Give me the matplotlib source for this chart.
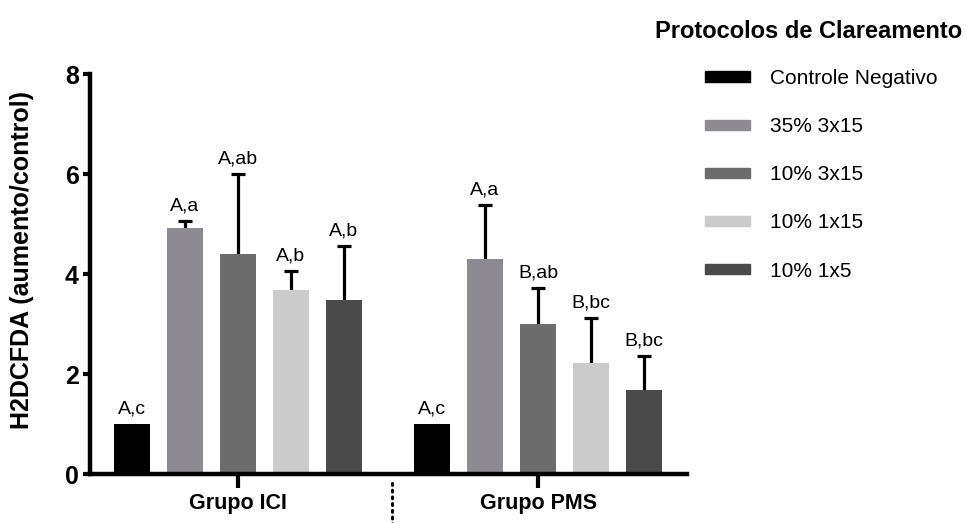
import numpy as np
import matplotlib.pyplot as plt
from matplotlib.patches import Patch

plt.rcParams['font.family'] = ['Liberation Sans', 'DejaVu Sans']

GROUPS = ['Grupo ICI', 'Grupo PMS']
PROTOCOLS = ['Controle Negativo', '35% 3x15', '10% 3x15', '10% 1x15', '10% 1x5']
COLORS = ['#000000', '#8d8a91', '#6c6c6c', '#cbcbcb', '#4a4a4a']

MEAN_ICI = [1.0, 4.92, 4.40, 3.68, 3.48]
ERR_ICI = [0.0, 0.14, 1.60, 0.38, 1.08]
LBL_ICI = ['A,c', 'A,a', 'A,ab', 'A,b', 'A,b']

MEAN_PMS = [1.0, 4.30, 3.00, 2.22, 1.68]
ERR_PMS = [0.0, 1.08, 0.72, 0.90, 0.68]
LBL_PMS = ['A,c', 'A,a', 'B,ab', 'B,bc', 'B,bc']

###############################################################################
# Figure
###############################################################################
fig = plt.figure(figsize=(9.66, 5.23), dpi=100)
ax = fig.add_axes([90/966, 1-474/523, (687-90)/966, 400/523])

group_off = [0.0, 300/53]
width = 36/53
means = [MEAN_ICI, MEAN_PMS]
errs = [ERR_ICI, ERR_PMS]
lbls = [LBL_ICI, LBL_PMS]

for g in range(2):
    xs = np.arange(5) + group_off[g]
    ax.bar(xs, means[g], width=width, color=COLORS, zorder=2)
    e = np.array(errs[g])
    m = np.array(means[g])
    has = e > 0
    eb = ax.errorbar(
        xs[has], m[has], yerr=[np.zeros(has.sum()), e[has]],
        fmt='none', ecolor='black', elinewidth=2.3, capsize=4.7,
        capthick=2.3, zorder=1
    )
    eb[1][0].set_visible(False)
    for (x, y, t) in zip(xs, m + e, lbls[g]):
        ax.annotate(t, (x, y), xytext=(0, 4.5), textcoords='offset points',
                    ha='center', va='bottom', fontsize=14)

ax.set_ylim(0, 8)
ax.set_xlim(-42/53, (687-132)/53)
ax.set_yticks([0, 2, 4, 6, 8])
ax.set_xticks([2, 2 + group_off[1]])
ax.set_xticklabels(GROUPS, fontsize=15.5, fontweight='bold')
for lab in ax.get_yticklabels():
    lab.set_fontweight('bold')
ax.tick_params(axis='y', labelsize=18, length=5, width=3, pad=3)
ax.tick_params(axis='x', length=10, width=3, pad=4)
for s in ['top', 'right']:
    ax.spines[s].set_visible(False)
for s in ['left', 'bottom']:
    ax.spines[s].set_linewidth(3.2)
ax.set_ylabel('H2DCFDA (aumento/control)', fontsize=18, fontweight='bold',
              va='center')
ax.yaxis.set_label_coords((22-90)/597, (474-260)/400)

# dotted separator between groups
sep = (392-132)/53
ax.plot([sep, sep], [-0.18, -1.2], ls=(0, (0.6, 1.6)), lw=2.2,
        color='black', clip_on=False, dash_capstyle='round')

fig.text(655/966, 1-31/523, 'Protocolos de Clareamento', fontsize=17,
         fontweight='bold', va='center', ha='left')
handles = [Patch(color=c, label=p) for (c, p) in zip(COLORS, PROTOCOLS)]
fig.legend(handles=handles, loc='upper left',
           bbox_to_anchor=(705/966, 1-69/523), frameon=False, fontsize=15,
           handlelength=2.16, handleheight=0.385, handletextpad=0.96,
           labelspacing=1.4, borderpad=0, borderaxespad=0)

fig.savefig('out.png', dpi=100)
